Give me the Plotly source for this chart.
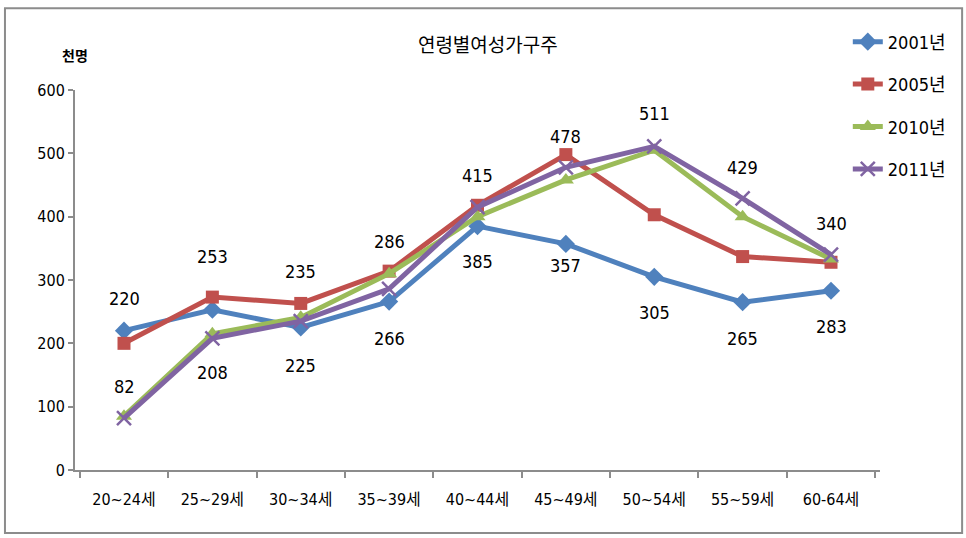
"""Age-group female household heads (thousand persons), 2001-2011."""

import plotly.graph_objects as go

age_groups = ["20~24세", "25~29세", "30~34세", "35~39세", "40~44세",
              "45~49세", "50~54세", "55~59세", "60-64세"]
y2001 = [220, 253, 225, 266, 385, 357, 305, 265, 283]
y2005 = [200, 273, 263, 314, 418, 498, 403, 337, 328]
y2010 = [85, 215, 241, 310, 400, 458, 505, 400, 333]
y2011 = [82, 208, 235, 286, 415, 478, 511, 429, 340]
y_ticks = [0, 100, 200, 300, 400, 500, 600]

# label offsets in pixels (positive = above the point)
shift_2001 = [32, 53, -38, -37, -35, -22, -36, -36, -36]
shift_2011 = [32, -34, 50, 47, 32, 31, 33, 31, 31]

KR = "Noto Sans CJK KR, sans-serif"
NARROW = "Liberation Sans Narrow, DejaVu Sans Condensed, Noto Sans CJK KR, sans-serif"

series = [
    ("2001년", y2001, "#4F81BD", "diamond", 14),
    ("2005년", y2005, "#C0504D", "square", 13),
    ("2010년", y2010, "#9BBB59", "triangle-up", 14),
    ("2011년", y2011, "#8064A2", "x-thin-open", 14),
]

fig = go.Figure()
for name, vals, color, symbol, size in series:
    marker = dict(symbol=symbol, size=size, color=color)
    if symbol.startswith("x-thin"):
        marker["line"] = dict(color=color, width=2.5)
    fig.add_trace(go.Scatter(
        x=age_groups, y=vals, name=name, legendgroup=name,
        mode="lines+markers", line=dict(color=color, width=5),
        marker=marker,
    ))

for vals, shifts in ((y2001, shift_2001), (y2011, shift_2011)):
    for cat, v, s in zip(age_groups, vals, shifts):
        fig.add_annotation(x=cat, y=v, text=str(v), showarrow=False,
                           yshift=s, font=dict(family=NARROW, size=18, color="black"))

fig.add_annotation(xref="paper", yref="paper", x=0.0, y=1.092, text="<b>천명</b>",
                   showarrow=False, xanchor="center", yanchor="middle",
                   font=dict(family=KR, size=14, color="black"))

# outer frame of the chart
fig.add_shape(type="rect", xref="paper", yref="paper",
              x0=-0.087, x1=1.102, y0=-0.166, y1=1.215,
              line=dict(color="#8c8c8c", width=2))

fig.update_layout(
    width=966, height=538,
    margin=dict(l=75, r=86, t=90, b=68),
    paper_bgcolor="white", plot_bgcolor="white",
    title=dict(text="연령별여성가구주", x=0.505, xanchor="center",
               y=0.915, yanchor="middle",
               font=dict(family=KR, size=19, color="black")),
    font=dict(family=NARROW, size=16, color="black"),
    showlegend=True,
    legend=dict(x=0.96, y=1.175, xanchor="left", yanchor="top",
                traceorder="grouped", tracegroupgap=16,
                font=dict(family=NARROW, size=18, color="black"),
                bgcolor="rgba(0,0,0,0)"),
    xaxis=dict(showline=True, linecolor="#8c8c8c", linewidth=2,
               ticks="outside", tickson="boundaries", ticklen=6,
               tickcolor="#8c8c8c", tickwidth=2, showgrid=False,
               ticklabelstandoff=14,
               tickfont=dict(family=NARROW, size=16)),
    yaxis=dict(range=[0, 600], tickvals=y_ticks, showline=True,
               linecolor="#8c8c8c", linewidth=2, ticks="outside",
               ticklen=5, tickcolor="#8c8c8c", tickwidth=2,
               showgrid=False, zeroline=False,
               tickfont=dict(family=NARROW, size=16)),
)

fig.write_html("out.html", config={"displayModeBar": False},
               post_script="document.body.style.margin='0';")
